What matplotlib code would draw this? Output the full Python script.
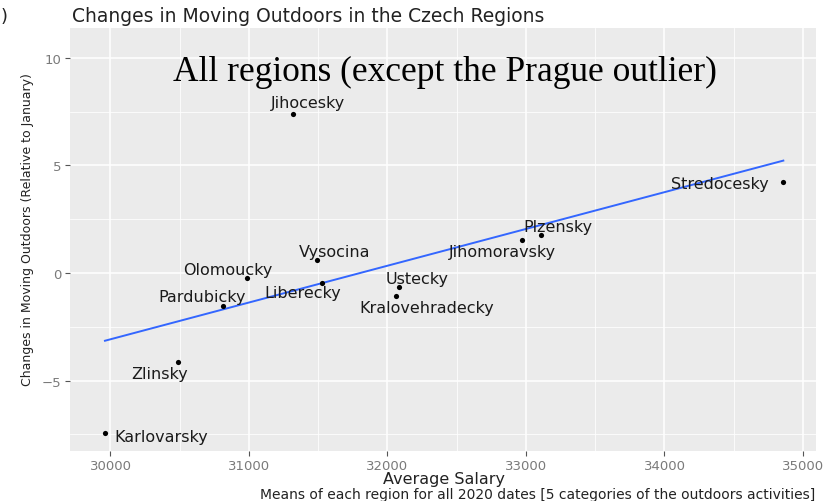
import numpy as np
import matplotlib
matplotlib.use("Agg")
import matplotlib.pyplot as plt
from matplotlib.ticker import MultipleLocator

# ---- data ----
regions = ["Jihocesky", "Stredocesky", "Jihomoravsky", "Plzensky", "Vysocina",
           "Olomoucky", "Liberecky", "Pardubicky", "Ustecky", "Kralovehradecky",
           "Zlinsky", "Karlovarsky"]
salary = [31319, 34858, 32971, 33108, 31491, 30986, 31527, 30812, 32083, 32061, 30487, 29960]
change = [7.41, 4.21, 1.55, 1.78, 0.62, -0.22, -0.45, -1.52, -0.64, -1.06, -4.15, -7.43]
x_ticks = [30000, 31000, 32000, 33000, 34000, 35000]
y_ticks = [-5, 0, 5, 10]

title = "Changes in Moving Outdoors in the Czech Regions"
subtitle_big = "All regions (except the Prague outlier)"
xlabel = "Average Salary"
ylabel = "Changes in Moving Outdoors (Relative to January)"
caption = "Means of each region for all 2020 dates [5 categories of the outdoors activities]"

# label offsets in pixels (dx right, dy down) -- layout only
label_off = {
    "Jihocesky": (15, -11), "Stredocesky": (-63, 1), "Plzensky": (17, -8),
    "Jihomoravsky": (-20, 12), "Vysocina": (18, -8), "Olomoucky": (-19, -8),
    "Liberecky": (-19, 10), "Pardubicky": (-21, -9), "Ustecky": (18, -8),
    "Kralovehradecky": (31, 12), "Zlinsky": (-18, 11), "Karlovarsky": (56, 4),
}

W, H = 838, 502
fig = plt.figure(figsize=(W / 100, H / 100), dpi=100)
plt.rcParams['font.family'] = ['DejaVu Sans']
ax = fig.add_axes([70 / W, 1 - 452 / H, (816 - 70) / W, (452 - 29) / H])
ax.set_facecolor("#EBEBEB")
for s in ax.spines.values():
    s.set_visible(False)

ax.set_xlim(29707.6, 35093.9)
ax.set_ylim(-8.27, 11.39)
ax.set_xticks(x_ticks)
ax.set_yticks(y_ticks)
ax.xaxis.set_minor_locator(MultipleLocator(500))
ax.yaxis.set_minor_locator(MultipleLocator(2.5))
ax.grid(which="major", color="white", lw=1.1)
ax.grid(which="minor", color="white", lw=0.55)
ax.set_axisbelow(True)
ax.tick_params(which="major", length=3.5, width=0.8, color="#555555",
               labelsize=9.5, labelcolor="#7a7a7a", pad=2.5)
ax.tick_params(which="minor", length=0)

# regression line (lm fit on the data)
xs = np.array(salary, float)
ys = np.array(change, float)
b, a = np.polyfit(xs, ys, 1)
xl = np.array([xs.min(), xs.max()])
ax.plot(xl, a + b * xl, color="#3366FF", lw=1.4, zorder=2)

ax.scatter(salary, change, s=14, color="black", zorder=3, linewidths=0)

for name, xv, yv in zip(regions, salary, change):
    dx, dy = label_off[name]
    ax.annotate(name, (xv, yv), xytext=(dx * 0.72, -dy * 0.72),
                textcoords="offset points", ha="center", va="center",
                fontsize=11.5, color="#1a1a1a", zorder=4)

ax.text((445 - 70) / (816 - 70), (452 - 72) / (452 - 29), subtitle_big,
        transform=ax.transAxes, ha="center", va="center", fontsize=25.5,
        family="Liberation Serif", color="black")

ax.set_ylabel(ylabel, fontsize=9, color="#222222")
ax.yaxis.set_label_coords(-36 / (816 - 70), (452 - 230) / (452 - 29))

fig.text(444 / W, 1 - 480 / H, xlabel, ha="center", va="center", fontsize=11.5,
         color="#222222")
fig.text(72 / W, 1 - 17 / H, title, ha="left", va="center", fontsize=13.5,
         color="#222222")
fig.text(815 / W, 1 - 495 / H, caption, ha="right", va="center", fontsize=10,
         color="#222222")
fig.text(1 / W, 1 - 17 / H, ")", ha="left", va="center", fontsize=13,
         color="#222222")

fig.savefig("out.png", dpi=100, facecolor="white")
